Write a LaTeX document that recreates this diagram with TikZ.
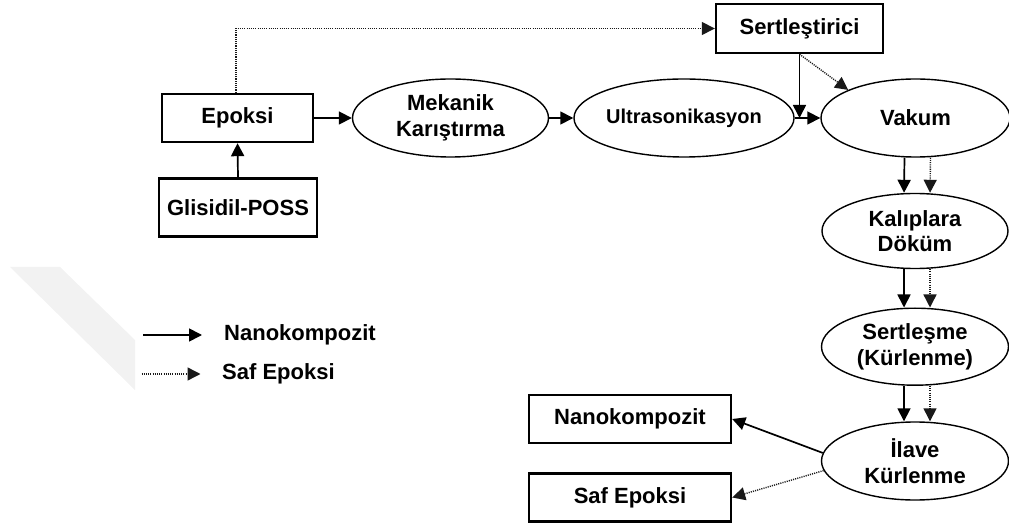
\documentclass[tikz,border=0pt]{standalone}
\usepackage{fontspec}
\setmainfont{Liberation Sans}
\usetikzlibrary{shapes.geometric,arrows.meta}
\tikzset{
  txt/.style={font=\bfseries\fontsize{22}{25.5}\selectfont, align=center, inner sep=0pt},
  boxnode/.style={txt, draw, line width=2.4pt, rectangle},
  ellnode/.style={txt, draw, line width=1.4pt, ellipse},
  arr/.style={line width=1.7pt, -{Triangle[length=13pt,width=13pt]}},
  darr/.style={line width=1.4pt, dash pattern=on 1.1pt off 1.1pt, draw=black!90, -{Triangle[length=13pt,width=13pt]}},
}
\begin{document}
\begin{tikzpicture}[x=1pt,y=-1pt]
\useasboundingbox (0,0) rectangle (1009,526);
% faint watermark
\fill[black!5] (10,267) -- (60,267) -- (135,340) -- (135,390) -- cycle;

\node[boxnode, minimum width=151pt, minimum height=48pt] (epoksi) at (237.5,118) {Epoksi};
\node[boxnode, minimum width=158pt, minimum height=58pt] (glis) at (238,207.5) {Glisidil-POSS};
\node[boxnode, minimum width=167pt, minimum height=49pt] (sert) at (799.5,28.5) {Sertleştirici};
\node[boxnode, minimum width=202pt, minimum height=48pt] (nano) at (630,419) {Nanokompozit};
\node[boxnode, minimum width=202pt, minimum height=48pt] (saf) at (630,497.5) {Saf Epoksi};

\node[ellnode, minimum width=196pt, minimum height=78pt] (mek) at (450.5,118) {Mekanik\\Karıştırma};
\node[ellnode, minimum width=196pt, minimum height=78pt, font=\bfseries\fontsize{20}{24}\selectfont] (ultra) at (684,118) {Ultrasonikasyon};
\node[ellnode, minimum width=189pt, minimum height=78pt] (vakum) at (915.5,118) {Vakum};
\node[ellnode, minimum width=186pt, minimum height=75pt] (kal) at (915,231) {Kalıplara\\Döküm};
\node[ellnode, minimum width=187pt, minimum height=77pt] (sertl) at (915,346.7) {Sertleşme\\(Kürlenme)};
\node[ellnode, minimum width=187pt, minimum height=78pt] (ilave) at (915,461) {İlave\\Kürlenme};

% main chain
\draw[arr] (epoksi.east) -- (mek.west);
\draw[arr] (mek.east) -- (ultra.west);
\draw[arr] (ultra.east) -- (vakum.west);
\draw[arr] (glis.north) -- (epoksi.south);
\draw[darr] ([xshift=-1.5pt]epoksi.north) |- (sert.west);
\draw[arr] (sert.south) -- (sert.south |- vakum.west);
\draw[darr] (sert.south) -- (vakum.north west);

\draw[arr] ([xshift=-11pt]vakum.south) -- ([xshift=-11pt]kal.north);
\draw[darr] ([xshift=15pt]vakum.south) -- ([xshift=15pt]kal.north);
\draw[arr] ([xshift=-11pt]kal.south) -- ([xshift=-11pt]sertl.north);
\draw[darr] ([xshift=15pt]kal.south) -- ([xshift=15pt]sertl.north);
\draw[arr] ([xshift=-11pt]sertl.south) -- ([xshift=-11pt]ilave.north);
\draw[darr] ([xshift=15pt]sertl.south) -- ([xshift=15pt]ilave.north);

\draw[arr] (ilave.175) -- (nano.east);
\draw[darr] (ilave.186) -- (saf.east);

% legend
\coordinate (l1a) at (143,335); \coordinate (l1b) at (202,335);
\coordinate (l2a) at (141.5,374); \coordinate (l2b) at (200.5,374);
\draw[arr] (l1a) -- (l1b);
\draw[darr] (l2a) -- (l2b);
\node[txt, anchor=west] (lg1) at (224,335) {Nanokompozit};
\node[txt, anchor=west] (lg2) at (222,374) {Saf Epoksi};
\end{tikzpicture}
\end{document}
